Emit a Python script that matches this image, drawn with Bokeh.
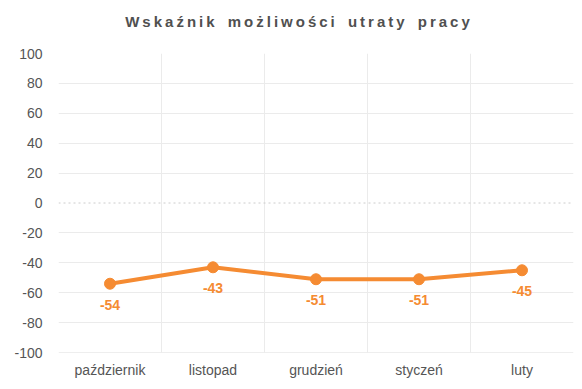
from bokeh.plotting import figure
from bokeh.models import Range1d, FixedTicker, ColumnDataSource, Div, Span
from bokeh.layouts import column
from bokeh.embed import file_html
from bokeh.resources import INLINE
from bokeh.core.properties import value

months = ["październik", "listopad", "grudzień", "styczeń", "luty"]
values = [-54, -43, -51, -51, -45]
y_ticks = [-100, -80, -60, -40, -20, 0, 20, 40, 60, 80, 100]
title_text = "Wskaźnik możliwości utraty pracy"

ORANGE = "#F58B32"
TXT = "#555555"

xs = [i + 0.5 for i in range(len(months))]
src = ColumnDataSource(dict(x=xs, y=values, lab=[str(v) for v in values]))

div = Div(text=title_text, width=566, height=36, margin=(0, 0, 0, 16),
          styles={"text-align": "center", "letter-spacing": "3px",
                  "word-spacing": "3px", "font-weight": "bold", "font-size": "15px",
                  "font-family": "Liberation Sans, Arial, sans-serif", "color": "#505050",
                  "line-height": "44px"})

p = figure(width=574, height=353, output_backend="svg", toolbar_location=None,
           x_range=Range1d(0, len(months)), y_range=Range1d(-100, 100),
           min_border_left=58, min_border_right=1, min_border_top=17, min_border_bottom=37)
p.outline_line_color = None
p.background_fill_color = "white"

p.yaxis.ticker = FixedTicker(ticks=y_ticks)
p.yaxis.major_label_overrides = {t: str(t) for t in y_ticks}
p.xaxis.ticker = FixedTicker(ticks=xs)
p.xaxis.major_label_overrides = {x: m for x, m in zip(xs, months)}
for ax in (p.xaxis, p.yaxis):
    ax.axis_line_color = None
    ax.major_tick_line_color = None
    ax.minor_tick_line_color = None
    ax.major_label_text_color = TXT
    ax.major_label_text_font = "Liberation Sans"
    ax.major_label_text_font_size = "14px"
p.yaxis.major_label_standoff = 10
p.xaxis.major_label_standoff = 3

p.ygrid.ticker = FixedTicker(ticks=[t for t in y_ticks if t != 0])
p.ygrid.grid_line_color = "#EBEBEB"
p.xgrid.ticker = FixedTicker(ticks=list(range(len(months) + 1)))
p.xgrid.grid_line_color = "#EBEBEB"

p.add_layout(Span(location=0, dimension="width", line_color="#CCCCCC",
                  line_dash="2 3", line_width=1))
p.add_layout(Span(location=-100, dimension="width", line_color="#DDDDDD", line_width=1))

p.line("x", "y", source=src, line_color=ORANGE, line_width=4)
p.scatter("x", "y", source=src, size=11, fill_color=ORANGE, line_color=ORANGE)
p.text("x", "y", text="lab", source=src, text_color=ORANGE, text_font=value("Liberation Sans"),
       text_font_style="bold", text_font_size="14px", text_align="center",
       text_baseline="middle", y_offset=21)

layout = column(div, p)
open("out.html", "w").write(file_html(layout, INLINE))
